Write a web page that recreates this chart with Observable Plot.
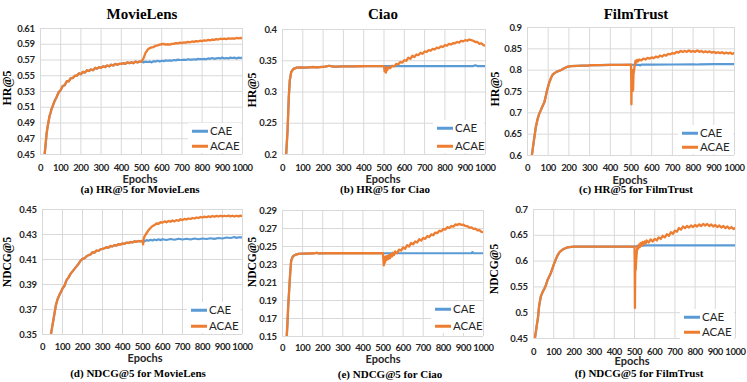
<!DOCTYPE html>
<html><head><meta charset="utf-8">
<script src="https://cdn.jsdelivr.net/npm/d3@7"></script>
<script src="https://cdn.jsdelivr.net/npm/@observablehq/plot@0.6"></script>
<style>
body{margin:0;background:#fff;}
#fig{position:relative;width:747px;height:382px;overflow:hidden;background:#fff;}
.t{position:absolute;transform:translate(-50%,-50%);white-space:nowrap;color:#000;line-height:0.75;}
.title{font-family:"Liberation Serif","Times New Roman",serif;font-weight:bold;font-size:15px;line-height:1;}
.cap{font-family:"Liberation Serif","Times New Roman",serif;font-weight:bold;font-size:11px;}
.ylab{font-family:"Liberation Serif","Times New Roman",serif;font-weight:bold;}
.xlab{font-family:Lato,sans-serif;font-weight:bold;font-size:11px;color:#262626;}
.leg{position:absolute;background:#fff;}
.legtxt{position:absolute;white-space:nowrap;font-family:Lato,sans-serif;font-size:11.5px;color:#262626;transform:translateY(-50%);line-height:1;}
.legsw{position:absolute;height:2.5px;width:16px;transform:translateY(-50%);}
</style></head><body><div id="fig"></div><script>
// ---------- data (epoch, value) ----------
const xTicks = [0,100,200,300,400,500,600,700,800,900,1000];
const series = ["CAE","ACAE"];

// (a) HR@5 MovieLens
const mlHrTicks = [0.45,0.47,0.49,0.51,0.53,0.55,0.57,0.59,0.61];
const mlHrBase = [[20,0.449],[25,0.462],[30,0.476],[35,0.485],[40,0.492],[45,0.499],[50,0.503],[55,0.508],[60,0.511],[70,0.518],[80,0.523],[90,0.529],[100,0.532],[110,0.537],[120,0.538],[130,0.543],[140,0.543],[150,0.547],[160,0.547],[170,0.550],[180,0.550],[190,0.553],[200,0.552],[210,0.555],[220,0.554],[230,0.557],[240,0.556],[250,0.558],[260,0.557],[270,0.560],[280,0.559],[290,0.561],[300,0.560],[310,0.562],[320,0.561],[330,0.563],[340,0.562],[350,0.564],[360,0.563],[370,0.565],[380,0.564],[390,0.565],[400,0.565],[410,0.566],[420,0.565],[430,0.567],[440,0.566],[450,0.567],[460,0.566],[470,0.568],[480,0.567],[490,0.568],[500,0.568]];
const mlHrCae = [[500,0.568],[510,0.567],[520,0.568],[530,0.5675],[540,0.568],[550,0.567],[560,0.5685],[570,0.568],[580,0.569],[590,0.568],[600,0.569],[610,0.5685],[620,0.5695],[630,0.569],[640,0.5695],[650,0.569],[660,0.570],[670,0.5695],[680,0.5705],[690,0.570],[700,0.570],[710,0.5705],[720,0.570],[730,0.571],[740,0.5705],[750,0.5705],[760,0.571],[770,0.5705],[780,0.5715],[790,0.571],[800,0.571],[810,0.5715],[820,0.571],[830,0.572],[840,0.5715],[850,0.5725],[860,0.5715],[870,0.572],[880,0.5725],[890,0.572],[900,0.573],[910,0.572],[920,0.5725],[930,0.572],[940,0.573],[950,0.5725],[960,0.573],[970,0.572],[980,0.573],[990,0.5725],[1000,0.573]];
const mlHrAcae = [[500,0.568],[510,0.572],[520,0.579],[530,0.583],[540,0.585],[550,0.586],[560,0.5865],[570,0.588],[580,0.5885],[590,0.5895],[600,0.590],[610,0.5905],[620,0.5895],[630,0.590],[640,0.5895],[650,0.5905],[660,0.5905],[670,0.5915],[680,0.591],[690,0.592],[700,0.5915],[710,0.5925],[720,0.592],[730,0.593],[740,0.5925],[750,0.5935],[760,0.593],[770,0.594],[780,0.5935],[790,0.5945],[800,0.594],[810,0.595],[820,0.5945],[830,0.5955],[840,0.595],[850,0.596],[860,0.5955],[870,0.5965],[880,0.596],[890,0.597],[900,0.5965],[910,0.597],[920,0.5965],[930,0.5975],[940,0.597],[950,0.5975],[960,0.597],[970,0.598],[980,0.5975],[990,0.598],[1000,0.5975]];

// (b) HR@5 Ciao
const ciaoHrTicks = [0.2,0.25,0.3,0.35,0.4];
const ciaoHrBase = [[18,0.2],[25,0.239],[31,0.292],[36,0.319],[43,0.332],[54,0.337],[71,0.339],[90,0.3395],[110,0.339],[130,0.3395],[150,0.340],[170,0.3395],[190,0.340],[210,0.3405],[230,0.342],[250,0.3405],[270,0.3405],[290,0.341],[320,0.341],[350,0.341],[380,0.3412],[410,0.3413],[440,0.3415],[470,0.3415],[500,0.3415]];
const ciaoHrCae = [[500,0.3415],[600,0.3415],[700,0.3415],[800,0.3415],[900,0.3415],[940,0.3415],[950,0.3428],[960,0.3415],[1000,0.3415]];
const ciaoHrAcae = [[500,0.3415],[503,0.333],[506,0.339],[509,0.331],[512,0.338],[516,0.335],[520,0.340],[530,0.338],[540,0.342],[550,0.341],[560,0.345],[570,0.344],[580,0.348],[590,0.347],[600,0.351],[610,0.350],[620,0.355],[630,0.353],[640,0.358],[650,0.356],[660,0.360],[670,0.359],[680,0.363],[690,0.361],[700,0.365],[710,0.364],[720,0.367],[730,0.366],[740,0.369],[750,0.368],[760,0.371],[770,0.370],[780,0.373],[790,0.372],[800,0.375],[810,0.374],[820,0.377],[830,0.376],[840,0.378],[850,0.378],[860,0.380],[870,0.379],[880,0.382],[890,0.381],[900,0.383],[910,0.382],[920,0.384],[930,0.383],[940,0.382],[950,0.380],[960,0.380],[970,0.377],[980,0.378],[990,0.375],[1000,0.374]];

// (c) HR@5 FilmTrust
const ftHrTicks = [0.6,0.65,0.7,0.75,0.8,0.85,0.9];
const ftHrBase = [[21,0.6],[30,0.632],[40,0.666],[48,0.684],[56,0.697],[65,0.707],[73,0.716],[81,0.724],[88,0.738],[94,0.752],[100,0.762],[105,0.771],[113,0.781],[121,0.789],[130,0.793],[140,0.796],[150,0.798],[161,0.800],[175,0.804],[193,0.808],[210,0.8095],[240,0.810],[270,0.8105],[295,0.8108],[300,0.8115],[350,0.812],[400,0.8123],[450,0.8125],[500,0.8127]];
const ftHrCae = [[500,0.8127],[540,0.8125],[545,0.811],[550,0.8128],[600,0.813],[700,0.8133],[800,0.8136],[820,0.8133],[830,0.8138],[900,0.814],[1000,0.8143]];
const ftHrAcae = [[500,0.8127],[501,0.785],[502,0.72],[503,0.77],[504,0.797],[506,0.765],[508,0.80],[510,0.752],[512,0.79],[515,0.80],[518,0.812],[522,0.822],[526,0.818],[530,0.824],[535,0.821],[540,0.825],[550,0.823],[560,0.827],[570,0.825],[580,0.829],[590,0.827],[600,0.830],[610,0.828],[620,0.832],[630,0.830],[640,0.834],[650,0.832],[660,0.836],[670,0.834],[680,0.838],[690,0.837],[700,0.840],[710,0.839],[720,0.843],[730,0.841],[740,0.845],[750,0.843],[760,0.845],[770,0.843],[780,0.846],[790,0.843],[800,0.845],[810,0.843],[820,0.846],[830,0.843],[840,0.845],[850,0.842],[860,0.844],[870,0.842],[880,0.844],[890,0.841],[900,0.843],[910,0.840],[920,0.842],[930,0.840],[940,0.842],[950,0.839],[960,0.841],[970,0.839],[980,0.841],[990,0.838],[1000,0.841]];

// (d) NDCG@5 MovieLens
const mlNdTicks = [0.35,0.37,0.39,0.41,0.43,0.45];
const mlNdBase = [[42,0.35],[50,0.3575],[58,0.365],[67,0.3735],[75,0.378],[84,0.3815],[92,0.384],[100,0.3868],[110,0.389],[120,0.3935],[130,0.3955],[140,0.3985],[150,0.4005],[160,0.4025],[170,0.4045],[180,0.4065],[190,0.409],[200,0.4105],[210,0.411],[220,0.4125],[230,0.4135],[240,0.414],[250,0.4158],[260,0.4155],[270,0.4172],[280,0.4168],[290,0.4182],[300,0.4185],[310,0.419],[320,0.4198],[330,0.4195],[340,0.4208],[350,0.4205],[360,0.4215],[370,0.4212],[380,0.4222],[390,0.422],[400,0.4228],[410,0.4225],[420,0.4235],[430,0.4232],[440,0.424],[450,0.4237],[460,0.4245],[470,0.4242],[480,0.4248],[490,0.4245],[500,0.425]];
const mlNdCae = [[500,0.425],[510,0.4245],[520,0.4255],[530,0.425],[540,0.4258],[550,0.4252],[560,0.426],[570,0.4254],[580,0.4262],[590,0.4255],[600,0.4262],[620,0.4256],[640,0.4264],[660,0.4258],[680,0.4266],[700,0.426],[720,0.4266],[740,0.426],[760,0.4268],[780,0.4262],[800,0.4268],[820,0.4264],[840,0.427],[860,0.4265],[880,0.4272],[900,0.4268],[920,0.4276],[940,0.4272],[960,0.428],[970,0.4272],[980,0.4278],[1000,0.4276]];
const mlNdAcae = [[500,0.425],[503,0.4222],[506,0.4265],[510,0.4285],[515,0.4298],[520,0.431],[530,0.4335],[540,0.4352],[550,0.4368],[560,0.4375],[570,0.4388],[580,0.4386],[590,0.4398],[600,0.4395],[610,0.4405],[620,0.4398],[630,0.4408],[640,0.4402],[650,0.4412],[660,0.4405],[670,0.4415],[680,0.441],[690,0.4422],[700,0.4415],[710,0.4425],[720,0.442],[730,0.4428],[740,0.4424],[750,0.4432],[760,0.4428],[770,0.4436],[780,0.4432],[790,0.444],[800,0.4436],[810,0.4443],[820,0.4438],[830,0.4445],[840,0.444],[850,0.4448],[860,0.4442],[870,0.4449],[880,0.4444],[890,0.445],[900,0.4445],[910,0.445],[920,0.4446],[930,0.4451],[940,0.4445],[950,0.445],[960,0.4444],[970,0.445],[980,0.4445],[990,0.4451],[1000,0.4446]];

// (e) NDCG@5 Ciao
const ciaoNdTicks = [0.15,0.17,0.19,0.21,0.23,0.25,0.27,0.29];
const ciaoNdBase = [[21,0.15],[25,0.166],[28,0.182],[33,0.2008],[38,0.2194],[43,0.2342],[51,0.2387],[58,0.24],[66,0.241],[80,0.2418],[100,0.242],[130,0.2422],[160,0.2425],[170,0.243],[180,0.2424],[220,0.2425],[300,0.2425],[400,0.2425],[500,0.2425]];
const ciaoNdCae = [[500,0.2425],[600,0.2425],[700,0.2425],[800,0.2425],[900,0.2425],[940,0.2425],[945,0.2438],[950,0.2425],[1000,0.2425]];
const ciaoNdAcae = [[500,0.2425],[502,0.235],[504,0.229],[507,0.238],[510,0.232],[514,0.239],[518,0.235],[522,0.2395],[526,0.236],[530,0.2405],[535,0.237],[540,0.2415],[545,0.239],[550,0.243],[555,0.2405],[560,0.2445],[570,0.2425],[580,0.2465],[590,0.2455],[600,0.249],[610,0.2475],[620,0.2515],[630,0.25],[640,0.254],[650,0.2525],[660,0.2555],[670,0.2545],[680,0.258],[690,0.2565],[700,0.2595],[710,0.2585],[720,0.2615],[730,0.2605],[740,0.2635],[750,0.2625],[760,0.2655],[770,0.2648],[780,0.2675],[790,0.2668],[800,0.2695],[810,0.2688],[820,0.2715],[830,0.2705],[840,0.2728],[850,0.272],[860,0.2745],[870,0.2738],[880,0.2752],[890,0.274],[900,0.2742],[910,0.2728],[920,0.2725],[930,0.271],[940,0.2712],[950,0.2695],[960,0.2698],[970,0.268],[980,0.2682],[990,0.2662],[1000,0.2658]];

// (f) NDCG@5 FilmTrust
const ftNdTicks = [0.45,0.5,0.55,0.6,0.65,0.7];
const ftNdBase = [[7,0.45],[16,0.4747],[22,0.49],[28,0.5136],[36,0.531],[44,0.539],[53,0.546],[61,0.5527],[69,0.5627],[78,0.57],[86,0.577],[94,0.586],[102,0.595],[110,0.603],[119,0.611],[127,0.616],[135,0.6195],[143,0.622],[152,0.624],[164,0.626],[176,0.627],[190,0.6277],[201,0.628],[250,0.628],[300,0.628],[400,0.628],[500,0.628]];
const ftNdCae = [[500,0.628],[520,0.6295],[560,0.6303],[600,0.6305],[700,0.6305],[800,0.6305],[900,0.6305],[1000,0.6305]];
const ftNdAcae = [[500,0.628],[501,0.60],[502,0.509],[503,0.56],[504,0.598],[505,0.594],[506,0.583],[508,0.60],[510,0.611],[512,0.62],[515,0.628],[518,0.624],[522,0.632],[526,0.627],[530,0.635],[535,0.630],[540,0.637],[545,0.632],[550,0.638],[555,0.634],[560,0.640],[570,0.636],[580,0.642],[590,0.638],[600,0.643],[610,0.640],[620,0.646],[630,0.643],[640,0.649],[650,0.646],[660,0.652],[670,0.649],[680,0.656],[690,0.653],[700,0.659],[710,0.657],[720,0.664],[730,0.661],[740,0.667],[750,0.664],[760,0.668],[770,0.665],[780,0.669],[790,0.666],[800,0.67],[810,0.667],[820,0.671],[830,0.668],[840,0.672],[850,0.669],[860,0.672],[870,0.668],[880,0.671],[890,0.667],[900,0.67],[910,0.666],[920,0.669],[930,0.665],[940,0.668],[950,0.664],[960,0.667],[970,0.663],[980,0.666],[990,0.662],[1000,0.665]];

// ---------- layout ----------
const colors = {CAE:"#5B9BD5", ACAE:"#ED7D31"};
const panels = [
 {base:mlHrBase, cae:mlHrCae, acae:mlHrAcae, ticks:mlHrTicks, px:[40,242], py:[28,154], xpad:9.5,
  title:["MovieLens",142,14], ylab:["HR@5",7,88,12], xlab:[140,178.5], cap:["(a) HR@5 for MovieLens",140,188.5], leg:[192,131,146]},
 {base:ciaoHrBase, cae:ciaoHrCae, acae:ciaoHrAcae, ticks:ciaoHrTicks, px:[282,485], py:[29,154], xpad:9.5,
  title:["Ciao",383,14], ylab:["HR@5",252,90,12], xlab:[383,178.5], cap:["(b) HR@5 for Ciao",385,188.5], leg:[437,128,146]},
 {base:ftHrBase, cae:ftHrCae, acae:ftHrAcae, ticks:ftHrTicks, px:[527,734], py:[27,155], xpad:9,
  title:["FilmTrust",636,14], ylab:["HR@5",495,89,12], xlab:[630,179.5], cap:["(c) HR@5 for FilmTrust",636,189], leg:[682,133,147]},
 {base:mlNdBase, cae:mlNdCae, acae:mlNdAcae, ticks:mlNdTicks, px:[42,242], py:[209,334], xpad:8.5,
  title:null, ylab:["NDCG@5",7,262,11.5], xlab:[145,357.5], cap:["(d) NDCG@5 for MovieLens",138,373], leg:[191,310,326]},
 {base:ciaoNdBase, cae:ciaoNdCae, acae:ciaoNdAcae, ticks:ciaoNdTicks, px:[282,483], py:[210,336], xpad:7.5,
  title:null, ylab:["NDCG@5",252,262,11.5], xlab:[383,358.5], cap:["(e) NDCG@5 for Ciao",390,373.5], leg:[435,309,326]},
 {base:ftNdBase, cae:ftNdCae, acae:ftNdAcae, ticks:ftNdTicks, px:[533,735], py:[209,338], xpad:9.5,
  title:null, ylab:["NDCG@5",494,269,11.5], xlab:[632,361], cap:["(f) NDCG@5 for FilmTrust",639,373], leg:[684,317,332]}
];

const fig = document.getElementById("fig");
function addText(cls, txt, x, y, extra) {
  const d = document.createElement("div");
  d.className = "t " + cls;
  d.textContent = txt;
  d.style.left = x + "px"; d.style.top = y + "px";
  if (extra) Object.assign(d.style, extra);
  fig.appendChild(d);
  return d;
}
const toRows = arr => arr.map(([epoch, value]) => ({epoch, value}));

for (const p of panels) {
  const mL = 42, mR = 8, mT = 6, mB = 24;
  const w = p.px[1] - p.px[0] + mL + mR, h = p.py[1] - p.py[0] + mT + mB;
  const caeRows = toRows(p.base.concat(p.cae));
  const acaeRows = toRows(p.base.concat(p.acae));
  const chart = Plot.plot({
    width: w, height: h, marginLeft: mL, marginRight: mR, marginTop: mT, marginBottom: mB,
    style: {background: "transparent", overflow: "visible", fontFamily: "Lato, sans-serif", fontSize: "9.5px", fontWeight: "700", letterSpacing: "-0.4px", color: "#262626"},
    x: {domain: [0, 1000]},
    y: {domain: [p.ticks[0], p.ticks[p.ticks.length - 1]]},
    marks: [
      Plot.gridX(xTicks, {stroke: "#d9d9d9", strokeOpacity: 1, strokeWidth: 1}),
      Plot.gridY(p.ticks, {stroke: "#d9d9d9", strokeOpacity: 1, strokeWidth: 1}),
      Plot.axisX(xTicks, {tickSize: 0, tickPadding: p.xpad, label: null, tickFormat: d => String(d)}),
      Plot.axisY(p.ticks, {tickSize: 0, tickPadding: 6, label: null, tickFormat: d => String(d)}),
      Plot.line(caeRows, {x: "epoch", y: "value", stroke: colors.CAE, strokeWidth: 2.2, clip: true}),
      Plot.line(acaeRows, {x: "epoch", y: "value", stroke: colors.ACAE, strokeWidth: 2.3, clip: true})
    ]
  });
  chart.style.position = "absolute";
  chart.style.left = (p.px[0] - mL) + "px";
  chart.style.top = (p.py[0] - mT) + "px";
  fig.appendChild(chart);

  if (p.title) addText("title", p.title[0], p.title[1], p.title[2]);
  addText("ylab", p.ylab[0], p.ylab[1], p.ylab[2], {fontSize: p.ylab[3] + "px", transform: "translate(-50%,-50%) rotate(-90deg)"});
  addText("xlab", "Epochs", p.xlab[0], p.xlab[1]);
  addText("cap", p.cap[0], p.cap[1], p.cap[2]);

  // legend
  const [lx, y1, y2] = p.leg;
  const box = document.createElement("div");
  box.className = "leg";
  const bl = lx - 4, bt = y1 - 8;
  box.style.left = bl + "px"; box.style.top = bt + "px";
  box.style.width = (p.px[1] - 1 - bl) + "px";
  box.style.height = (y2 - y1 + 15) + "px";
  [y1, y2].forEach((yy, i) => {
    const name = series[i];
    const sw = document.createElement("div");
    sw.className = "legsw";
    sw.style.background = colors[name];
    sw.style.left = (lx - bl) + "px"; sw.style.top = (yy - bt) + "px";
    box.appendChild(sw);
    const tx = document.createElement("div");
    tx.className = "legtxt";
    tx.textContent = name;
    tx.style.left = (lx - bl + 18) + "px"; tx.style.top = (yy - bt) + "px";
    box.appendChild(tx);
  });
  fig.appendChild(box);
}
</script></body></html>
